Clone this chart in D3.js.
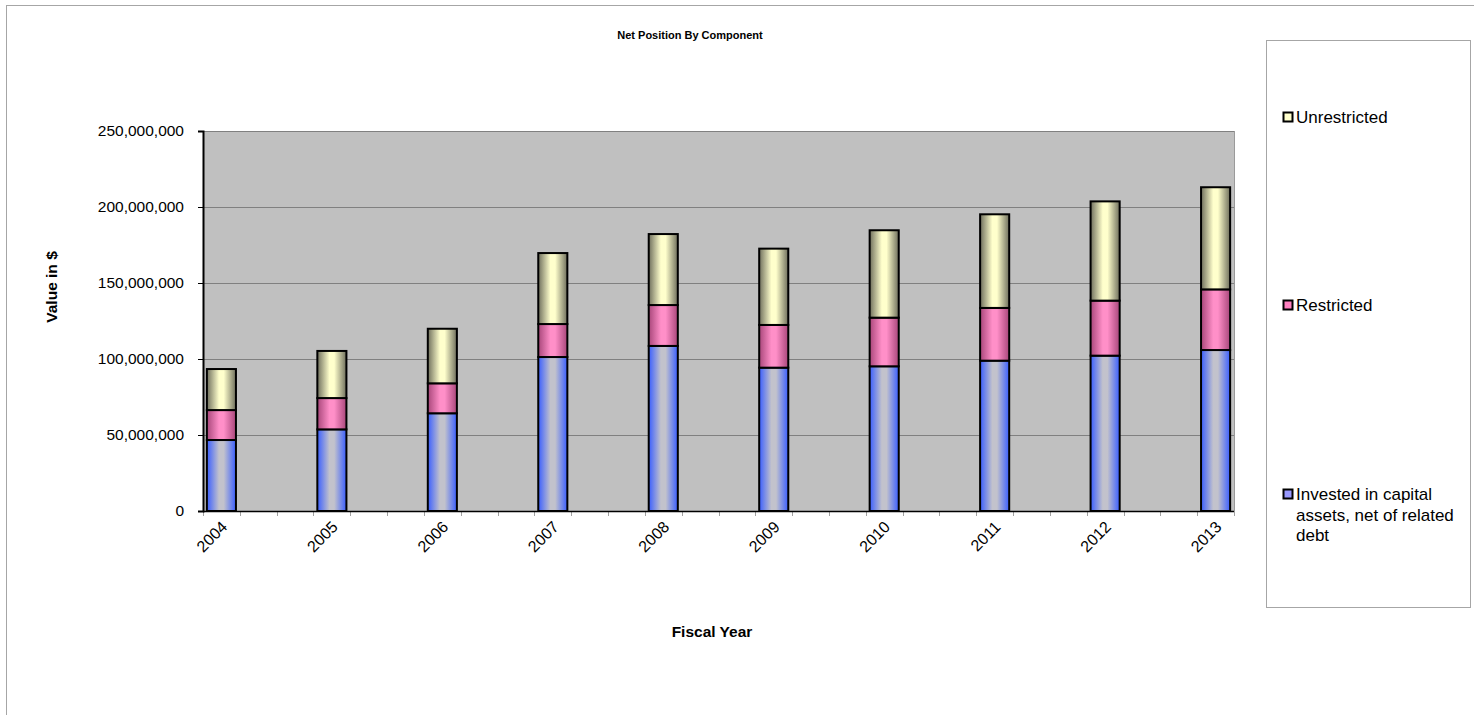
<!DOCTYPE html>
<html>
<head>
<meta charset="utf-8">
<script src="https://cdn.jsdelivr.net/npm/d3@7"></script>
<style>
  body { margin: 0; background: #fff; }
  svg { display: block; font-family: "Liberation Sans", Arial, sans-serif; }
</style>
</head>
<body>
<svg id="chart" width="1474" height="715"></svg>
<script>
// values, in dollars
var years = ['2004', '2005', '2006', '2007', '2008', '2009', '2010', '2011', '2012', '2013'];
var invested = [46700000, 53700000, 64300000, 101300000, 108600000, 94300000, 95200000, 98900000, 102200000, 105900000];
var restricted = [19700000, 20600000, 19700000, 21700000, 26900000, 28100000, 32000000, 34700000, 36200000, 39900000];
var unrestricted = [27000000, 31000000, 35900000, 46700000, 46700000, 50200000, 57500000, 61600000, 65300000, 67200000];
var yTicks = [0, 50000000, 100000000, 150000000, 200000000, 250000000];

var seriesNames = ['Invested in capital assets, net of related debt', 'Restricted', 'Unrestricted'];
var legendLines = [['Invested in capital', 'assets, net of related', 'debt'], ['Restricted'], ['Unrestricted']];

// gradient stops for each series: edge, middle
var fills = [
    { id: 'gBlue', edge: '#3a5eff', mid: '#c2c2cc', swatch: '#9999ff' },
    { id: 'gPink', edge: '#a8467a', mid: '#ff8fc8', swatch: '#ff80c0' },
    { id: 'gYellow', edge: '#6e6e5c', mid: '#ffffcc', swatch: '#ffffcc' }
];

var svg = d3.select('#chart');

var plot = { left: 203, right: 1234, top: 131, bottom: 511 };
var slotsPerYear = 3;

// outer chart border (right and bottom edges fall outside the picture)
svg.append('rect')
    .attr('x', 6.5).attr('y', 5.5)
    .attr('width', 1480).attr('height', 720)
    .attr('fill', '#fff')
    .attr('stroke', '#a6a6a6');

var defs = svg.append('defs');
fills.forEach(function(f) {
    var g = defs.append('linearGradient')
        .attr('id', f.id)
        .attr('x1', '0%').attr('x2', '100%')
        .attr('y1', '0%').attr('y2', '0%');
    g.append('stop').attr('offset', '0%').attr('stop-color', f.edge);
    g.append('stop').attr('offset', '42%').attr('stop-color', f.mid);
    g.append('stop').attr('offset', '58%').attr('stop-color', f.mid);
    g.append('stop').attr('offset', '100%').attr('stop-color', f.edge);
});

// the x axis is split into slots, every year sits on each third slot
var slots = d3.range((years.length - 1) * slotsPerYear + 1);
var x = d3.scaleBand()
    .domain(slots)
    .range([plot.left, plot.right])
    .paddingInner(0.21)
    .paddingOuter(0.105);

var y = d3.scaleLinear()
    .domain([0, 250000000])
    .range([plot.bottom, plot.top]);

// plot background
svg.append('rect')
    .attr('x', plot.left).attr('y', plot.top)
    .attr('width', plot.right - plot.left)
    .attr('height', plot.bottom - plot.top)
    .attr('fill', '#c0c0c0');

// gridlines
svg.append('g')
    .selectAll('line')
    .data(yTicks.filter(function(d) { return d > 0; }))
    .enter().append('line')
    .attr('x1', plot.left).attr('x2', plot.right)
    .attr('y1', function(d) { return Math.round(y(d)) + 0.5; })
    .attr('y2', function(d) { return Math.round(y(d)) + 0.5; })
    .attr('stroke', '#808080')
    .attr('stroke-width', 1);

// right border of plot
svg.append('line')
    .attr('x1', plot.right + 0.5).attr('x2', plot.right + 0.5)
    .attr('y1', plot.top).attr('y2', plot.bottom)
    .attr('stroke', '#9a9a9a');

// stacked data
var table = years.map(function(yr, i) {
    return { year: yr, slot: i * slotsPerYear, values: [invested[i], restricted[i], unrestricted[i]] };
});
var stack = d3.stack()
    .keys([0, 1, 2])
    .value(function(d, k) { return d.values[k]; });
var layers = stack(table);

svg.append('g')
    .selectAll('g')
    .data(layers)
    .enter().append('g')
    .attr('fill', function(d, i) { return 'url(#' + fills[i].id + ')'; })
    .selectAll('rect')
    .data(function(d) { return d; })
    .enter().append('rect')
    .attr('x', function(d) { return x(d.data.slot); })
    .attr('width', x.bandwidth())
    .attr('y', function(d) { return y(d[1]); })
    .attr('height', function(d) { return y(d[0]) - y(d[1]); })
    .attr('stroke', '#000')
    .attr('stroke-width', 2);

// x axis: line, slot ticks and year labels
var xAxis = svg.append('g');
xAxis.selectAll('line.tick')
    .data(d3.range(slots.length + 1))
    .enter().append('line')
    .attr('class', 'tick')
    .attr('x1', function(k) { return Math.round(plot.left + k * x.step()) + 0.5; })
    .attr('x2', function(k) { return Math.round(plot.left + k * x.step()) + 0.5; })
    .attr('y1', plot.bottom).attr('y2', plot.bottom + 5)
    .attr('stroke', '#a0a0a0');
xAxis.append('line')
    .attr('x1', plot.left).attr('x2', plot.right)
    .attr('y1', plot.bottom + 0.5).attr('y2', plot.bottom + 0.5)
    .attr('stroke', '#000')
    .attr('stroke-width', 1.5);

xAxis.selectAll('text')
    .data(table)
    .enter().append('text')
    .attr('transform', function(d) {
        var cx = x(d.slot) + x.bandwidth() / 2 + 3;
        return 'translate(' + cx + ',' + (plot.bottom + 13) + ') rotate(-45)';
    })
    .attr('text-anchor', 'end')
    .attr('dy', '0.35em')
    .attr('font-size', '16px')
    .attr('fill', '#000')
    .text(function(d) { return d.year; });

// y axis
var yAxis = svg.append('g')
    .attr('transform', 'translate(' + plot.left + ',0)')
    .call(d3.axisLeft(y)
        .tickValues(yTicks)
        .tickFormat(d3.format(','))
        .tickSize(5)
        .tickPadding(14));
yAxis.select('.domain')
    .attr('stroke', '#000')
    .attr('stroke-width', 2);
yAxis.selectAll('.tick line').attr('stroke', '#000');
yAxis.selectAll('.tick text')
    .attr('font-size', '15.5px')
    .attr('font-family', '"Liberation Sans", Arial, sans-serif')
    .attr('fill', '#000');

// titles
svg.append('text')
    .attr('x', 690).attr('y', 39)
    .attr('text-anchor', 'middle')
    .attr('font-size', '11px')
    .attr('font-weight', 'bold')
    .text('Net Position By Component');

svg.append('text')
    .attr('x', 712).attr('y', 637)
    .attr('text-anchor', 'middle')
    .attr('font-size', '15.5px')
    .attr('font-weight', 'bold')
    .text('Fiscal Year');

svg.append('text')
    .attr('transform', 'translate(57,287) rotate(-90)')
    .attr('text-anchor', 'middle')
    .attr('font-size', '15.5px')
    .attr('font-weight', 'bold')
    .text('Value in $');

// legend
var legend = svg.append('g');
legend.append('rect')
    .attr('x', 1266.5).attr('y', 40.5)
    .attr('width', 204).attr('height', 567)
    .attr('fill', '#fff')
    .attr('stroke', '#a6a6a6');

var legendY = [494, 305, 117];
var items = legend.selectAll('g.item')
    .data(seriesNames)
    .enter().append('g')
    .attr('class', 'item')
    .attr('transform', function(d, i) { return 'translate(1283,' + legendY[i] + ')'; });

items.append('rect')
    .attr('x', 0.5).attr('y', -4.5)
    .attr('width', 9).attr('height', 9)
    .attr('fill', function(d, i) { return fills[i].swatch; })
    .attr('stroke', '#000')
    .attr('stroke-width', 2);

items.append('text')
    .attr('x', 13)
    .attr('font-size', '17px')
    .attr('fill', '#000')
    .selectAll('tspan')
    .data(function(d, i) { return legendLines[i]; })
    .enter().append('tspan')
    .attr('x', 13)
    .attr('y', function(d, j) { return j * 20.5; })
    .attr('dy', '0.36em')
    .text(function(d) { return d; });
</script>
</body>
</html>
